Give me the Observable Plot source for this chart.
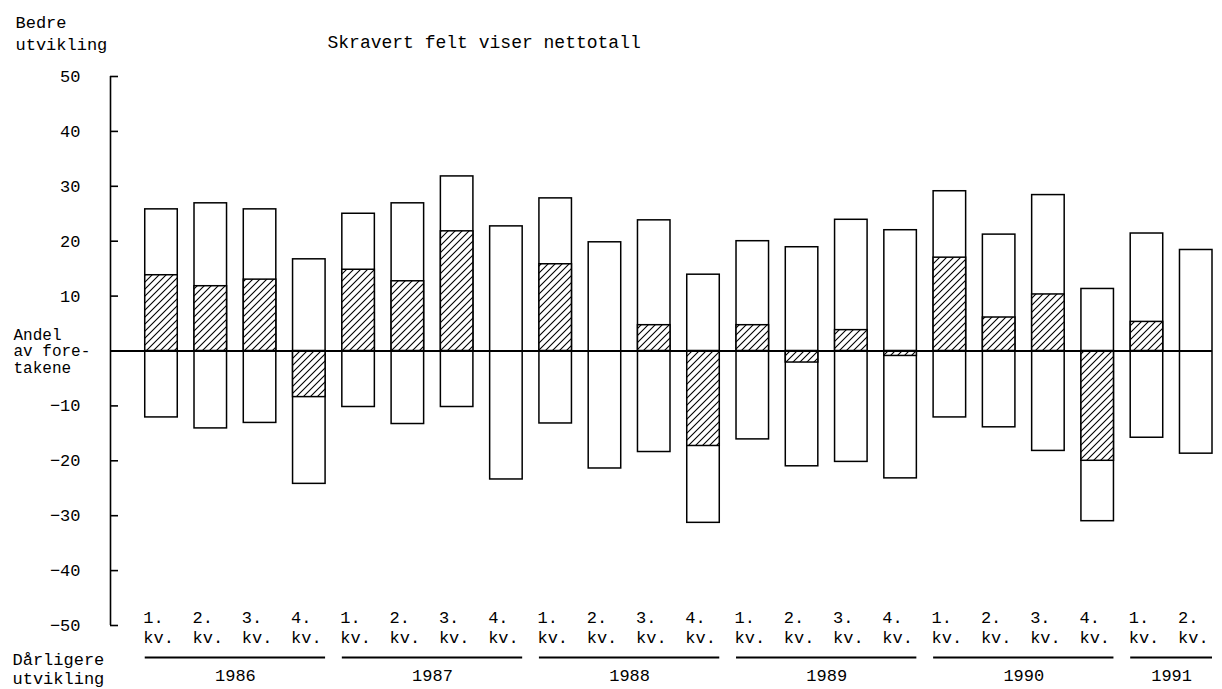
<!DOCTYPE html>
<html>
<head>
<meta charset="utf-8">
<script src="https://cdn.jsdelivr.net/npm/d3@7"></script>
<script src="https://cdn.jsdelivr.net/npm/@observablehq/plot@0.6"></script>
<style>
  body { margin: 0; background: #fff; }
</style>
</head>
<body>
<div id="chart"></div>
<script>
// ---- data ----
const quarterLabels = [
  "1.\nkv.", "2.\nkv.", "3.\nkv.", "4.\nkv.",
  "1.\nkv.", "2.\nkv.", "3.\nkv.", "4.\nkv.",
  "1.\nkv.", "2.\nkv.", "3.\nkv.", "4.\nkv.",
  "1.\nkv.", "2.\nkv.", "3.\nkv.", "4.\nkv.",
  "1.\nkv.", "2.\nkv.", "3.\nkv.", "4.\nkv.",
  "1.\nkv.", "2.\nkv."
];
const yearOfBar = [
  1986, 1986, 1986, 1986,
  1987, 1987, 1987, 1987,
  1988, 1988, 1988, 1988,
  1989, 1989, 1989, 1989,
  1990, 1990, 1990, 1990,
  1991, 1991
];
// share of firms reporting better development (positive)
const better = [25.8, 26.9, 25.8, 16.7, 25.0, 26.9, 31.8, 22.7, 27.8, 19.8, 23.8, 13.9, 20.0, 18.9, 23.9, 22.0, 29.1, 21.2, 28.4, 11.3, 21.4, 18.4];
// share of firms reporting worse development (negative)
const worse = [-12.1, -14.1, -13.1, -24.2, -10.2, -13.3, -10.2, -23.4, -13.2, -21.4, -18.4, -31.3, -16.1, -21.0, -20.2, -23.2, -12.1, -13.9, -18.2, -31.0, -15.8, -18.7];
// net figure (hatched)
const netto = [13.8, 11.8, 13.0, -8.4, 14.8, 12.7, 21.8, 0, 15.8, 0, 4.7, -17.3, 4.7, -2.1, 3.8, -0.9, 17.0, 6.1, 10.3, -20.0, 5.3, 0];
const yTicks = [-50, -40, -30, -20, -10, 0, 10, 20, 30, 40, 50];
const yTickLabels = [-50, -40, -30, -20, -10, 10, 20, 30, 40, 50];
const yearLabels = [1986, 1987, 1988, 1989, 1990, 1991];
const titleText = "Skravert felt viser nettotall";
const topLabel = "Bedre\nutvikling";
const midLabel = "Andel\nav fore-\ntakene";
const bottomLabel = "Dårligere\nutvikling";

// ---- derived tables ----
const idx = d3.range(better.length);
const hw = 0.33; // half bar width in index units
const groups = yearLabels.map(y => {
  const ii = idx.filter(i => yearOfBar[i] === y);
  return {year: y, i0: d3.min(ii), i1: d3.max(ii)};
});
const W = 1222, H = 689, mL = 110, mR = 10, mT = 76, mB = 64;
const xDomain = [-1.035, 21.33];
const font = "'Liberation Mono', 'Courier New', monospace";

const plot = Plot.plot({
  width: W, height: H,
  marginLeft: mL, marginRight: mR, marginTop: mT, marginBottom: mB,
  style: {fontFamily: font, fontSize: "17px", background: "white", color: "black"},
  x: {domain: xDomain, axis: null},
  y: {domain: [-50, 50], axis: null},
  marks: [
    Plot.rect(idx, {
      x1: i => i - hw, x2: i => i + hw,
      y1: i => worse[i], y2: i => better[i],
      fill: "white", stroke: "black", strokeWidth: 1.5
    }),
    Plot.rect(idx.filter(i => netto[i] !== 0), {
      x1: i => i - hw, x2: i => i + hw,
      y1: 0, y2: i => netto[i],
      fill: "url(#hatch)", stroke: "black", strokeWidth: 1.5
    }),
    Plot.ruleY([0], {stroke: "black", strokeWidth: 2}),
    Plot.ruleX([xDomain[0]], {y1: -50, y2: 50, stroke: "black", strokeWidth: 1.6}),
    Plot.tickY(yTicks, {y: d => d, insetRight: W - mL - mR - 8, stroke: "black", strokeWidth: 1.6}),
    Plot.axisY({ticks: yTickLabels, tickSize: 0, tickPadding: 30, label: null, fontSize: 17}),
    // quarter labels
    Plot.text(idx, {
      x: i => i - hw, y: -50, text: i => quarterLabels[i],
      textAnchor: "start", lineAnchor: "middle", dx: -2, dy: 1,
      lineHeight: 1.18, fontSize: 17
    }),
    // year underlines and labels
    Plot.ruleY(groups, {x1: d => d.i0 - hw, x2: d => d.i1 + hw, y: -50, dy: 32, stroke: "black", strokeWidth: 1.8}),
    Plot.text(groups, {x: d => (d.i0 + d.i1) / 2, y: -50, dy: 50, text: d => String(d.year), fontSize: 17}),
    // side labels
    Plot.text([topLabel], {text: d => d, frameAnchor: "top-left", textAnchor: "start", lineAnchor: "middle", dx: -95, dy: -45, lineHeight: 1.3, fontSize: 17}),
    Plot.text([midLabel], {text: d => d, y: 0, frameAnchor: "left", textAnchor: "start", lineAnchor: "middle", dx: -97, lineHeight: 1.02, fontSize: 16}),
    Plot.text([bottomLabel], {text: d => d, frameAnchor: "bottom-left", textAnchor: "start", lineAnchor: "middle", dx: -98, dy: 42.5, lineHeight: 1.12, fontSize: 17}),
    // title
    Plot.text([titleText], {text: d => d, frameAnchor: "top-left", textAnchor: "start", lineAnchor: "middle", dx: 217, dy: -34, fontSize: 18})
  ]
});

plot.insertAdjacentHTML("afterbegin",
  `<defs><pattern id="hatch" patternUnits="userSpaceOnUse" width="7" height="7">
     <rect width="7" height="7" fill="white"/>
     <path d="M-1,1 l2,-2 M0,7 l7,-7 M6,8 l2,-2" stroke="black" stroke-width="1.1"/>
   </pattern></defs>`);

document.getElementById("chart").appendChild(plot);
</script>
</body>
</html>
